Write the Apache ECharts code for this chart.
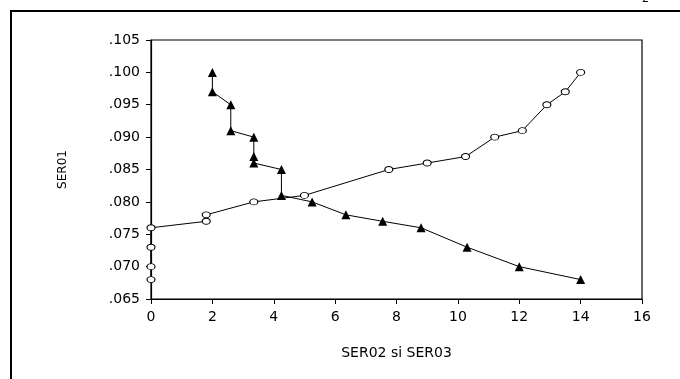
<!DOCTYPE html>
<html><head><meta charset="utf-8">
<script src="https://cdn.jsdelivr.net/npm/echarts@6/dist/echarts.min.js"></script>
<style>html,body{margin:0;padding:0;background:#fff}#c{width:680px;height:379px}</style>
</head><body><div id="c"></div>
<script>
var ser02X = [0, 0, 0, 0, 1.8, 1.8, 3.35, 5.0, 7.75, 9.0, 10.25, 11.2, 12.1, 12.9, 13.5, 14.0];
var ser02Y = [0.068, 0.070, 0.073, 0.076, 0.077, 0.078, 0.080, 0.081, 0.085, 0.086, 0.087, 0.090, 0.091, 0.095, 0.097, 0.100];
var ser03X = [2.0, 2.0, 2.6, 2.6, 3.35, 3.35, 3.35, 4.25, 4.25, 5.25, 6.35, 7.55, 8.8, 10.3, 12.0, 14.0];
var ser03Y = [0.100, 0.097, 0.095, 0.091, 0.090, 0.087, 0.086, 0.085, 0.081, 0.080, 0.078, 0.077, 0.076, 0.073, 0.070, 0.068];
var xTicks = [0, 2, 4, 6, 8, 10, 12, 14, 16];
var yTicks = ['.065', '.070', '.075', '.080', '.085', '.090', '.095', '.100', '.105'];

function pairs(xs, ys){ return xs.map(function(x,i){ return [x, ys[i]]; }); }
var chart = echarts.init(document.getElementById('c'));
var font = '"DejaVu Sans", Arial, sans-serif';
chart.setOption({
  animation: false,
  graphic: [
    {type:'rect', shape:{x:11, y:11, width:700, height:400}, style:{fill:'none', stroke:'#000', lineWidth:2}},
    {type:'text', left:642, top:-6, style:{text:'2', font:'11px ' + font, fill:'#000'}}
  ],
  grid: {left:151, right:38, top:40, bottom:80, show:true, borderColor:'#000', borderWidth:1.2},
  xAxis: {
    type:'value', min:0, max:16, interval:2,
    name:'SER02 si SER03', nameLocation:'middle', nameGap:47,
    nameTextStyle:{fontFamily:font, fontSize:14, color:'#000'},
    axisLine:{show:true, onZero:false, lineStyle:{color:'#000', width:1.2}},
    axisTick:{show:true, length:5, lineStyle:{color:'#000'}},
    axisLabel:{fontFamily:font, fontSize:14, color:'#000', margin:11,
      formatter:function(v){ var i = xTicks.indexOf(v); return i>=0 ? String(xTicks[i]) : ''; }},
    splitLine:{show:false}
  },
  yAxis: {
    type:'value', min:0.065, max:0.105, interval:0.005,
    name:'SER01', nameLocation:'middle', nameGap:82,
    nameTextStyle:{fontFamily:font, fontSize:12, color:'#000'},
    axisLine:{show:true, lineStyle:{color:'#000', width:1.2}},
    axisTick:{show:true, length:5, lineStyle:{color:'#000'}},
    axisLabel:{fontFamily:font, fontSize:14, color:'#000', margin:11,
      formatter:function(v){ var i = Math.round((v-0.065)/0.005); return yTicks[i] || ''; }},
    splitLine:{show:false}
  },
  series: [
    {type:'line', data:pairs(ser02X, ser02Y), symbol:'circle', symbolSize:[8,6], showAllSymbol:true,
     lineStyle:{color:'#000', width:1}, itemStyle:{color:'#fff', borderColor:'#000', borderWidth:1}, z:3},
    {type:'line', data:pairs(ser03X, ser03Y), symbol:'triangle', symbolSize:[9,9], showAllSymbol:true,
     lineStyle:{color:'#000', width:1}, itemStyle:{color:'#000', borderColor:'#000', borderWidth:0}, z:4}
  ]
});
</script></body></html>
